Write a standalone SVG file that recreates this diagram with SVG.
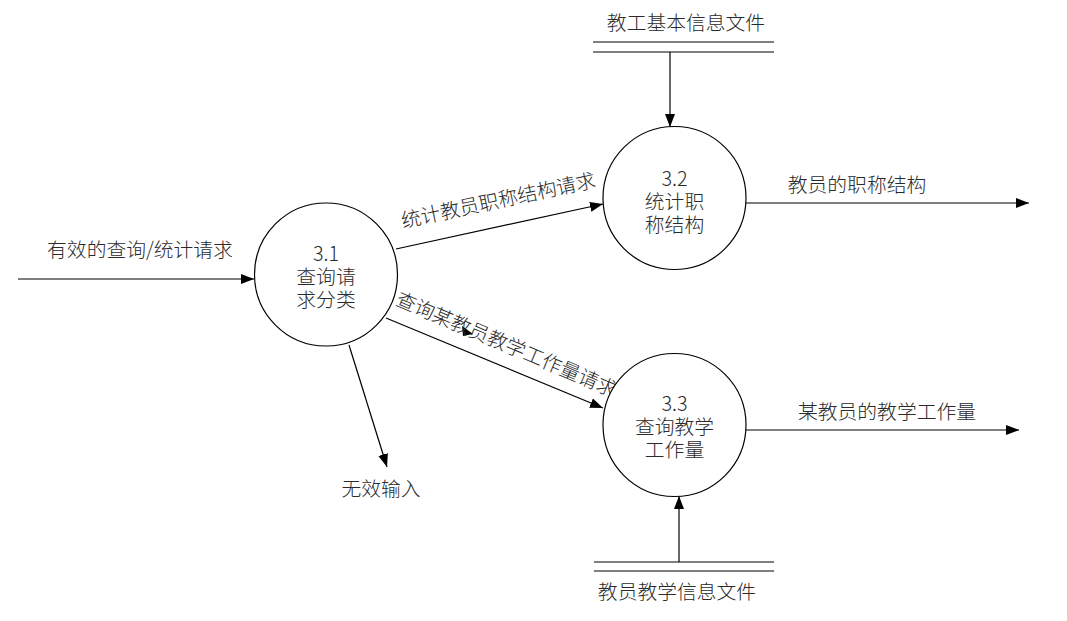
<svg xmlns="http://www.w3.org/2000/svg" width="1067" height="621" viewBox="0 0 1067 621">
<style>
.t{font-family:"Noto Sans CJK SC","Liberation Sans",sans-serif;font-size:19.8px;font-weight:300;fill:#2a2a2a;text-anchor:middle;dominant-baseline:central}
.c{fill:#fff;stroke:#000;stroke-width:1.2}
.l{stroke:#000;stroke-width:1.2;fill:none}
</style>
<defs>
<marker id="a" markerUnits="userSpaceOnUse" markerWidth="14" markerHeight="12" refX="13" refY="5" orient="auto">
<path d="M0,0 L13,5 L0,10 Z" fill="#000"/>
</marker>
</defs>
<rect width="1067" height="621" fill="#fff"/>
<g id="connectors">
<line class="l" x1="18" y1="279" x2="254" y2="279" marker-end="url(#a)"/>
<line class="l" x1="670" y1="52" x2="670" y2="127" marker-end="url(#a)"/>
<line class="l" x1="396" y1="249" x2="603" y2="204" marker-end="url(#a)"/>
<line class="l" x1="386" y1="318" x2="603" y2="408" marker-end="url(#a)"/>
<line class="l" x1="349" y1="345" x2="387" y2="467" marker-end="url(#a)"/>
<line class="l" x1="746" y1="203" x2="1029" y2="203" marker-end="url(#a)"/>
<line class="l" x1="746" y1="430" x2="1019" y2="430" marker-end="url(#a)"/>
<line class="l" x1="679" y1="562" x2="679" y2="496" marker-end="url(#a)"/>
<polygon points="462,326 473,334 463,336" fill="#000"/>
<text class="t" x="140" y="248">有效的查询/统计请求</text>
<text class="t" transform="translate(498,199) rotate(-12)">统计教员职称结构请求</text>
<text class="t" transform="translate(507,343) rotate(23)">查询某教员教学工作量请求</text>
<text class="t" x="381" y="487">无效输入</text>
<text class="t" x="857" y="183">教员的职称结构</text>
<text class="t" x="887" y="410">某教员的教学工作量</text>
</g>
<g id="store1">
<line class="l" x1="593" y1="42" x2="774" y2="42"/>
<line class="l" x1="593" y1="52" x2="774" y2="52"/>
<text class="t" x="686" y="21">教工基本信息文件</text>
</g>
<g id="store2">
<line class="l" x1="594" y1="562" x2="774" y2="562"/>
<line class="l" x1="594" y1="571" x2="774" y2="571"/>
<text class="t" x="677" y="590">教员教学信息文件</text>
</g>
<g id="p31">
<circle class="c" cx="326" cy="274.5" r="71.5"/>
<text class="t"><tspan x="326" y="252">3.1</tspan><tspan x="326" y="275">查询请</tspan><tspan x="326" y="298">求分类</tspan></text>
</g>
<g id="p32">
<circle class="c" cx="674.5" cy="198" r="71.5"/>
<text class="t"><tspan x="674.5" y="177">3.2</tspan><tspan x="674.5" y="200">统计职</tspan><tspan x="674.5" y="223">称结构</tspan></text>
</g>
<g id="p33">
<circle class="c" cx="674.5" cy="425" r="71.5"/>
<text class="t"><tspan x="674.5" y="402">3.3</tspan><tspan x="674.5" y="425">查询教学</tspan><tspan x="674.5" y="448">工作量</tspan></text>
</g>
</svg>
